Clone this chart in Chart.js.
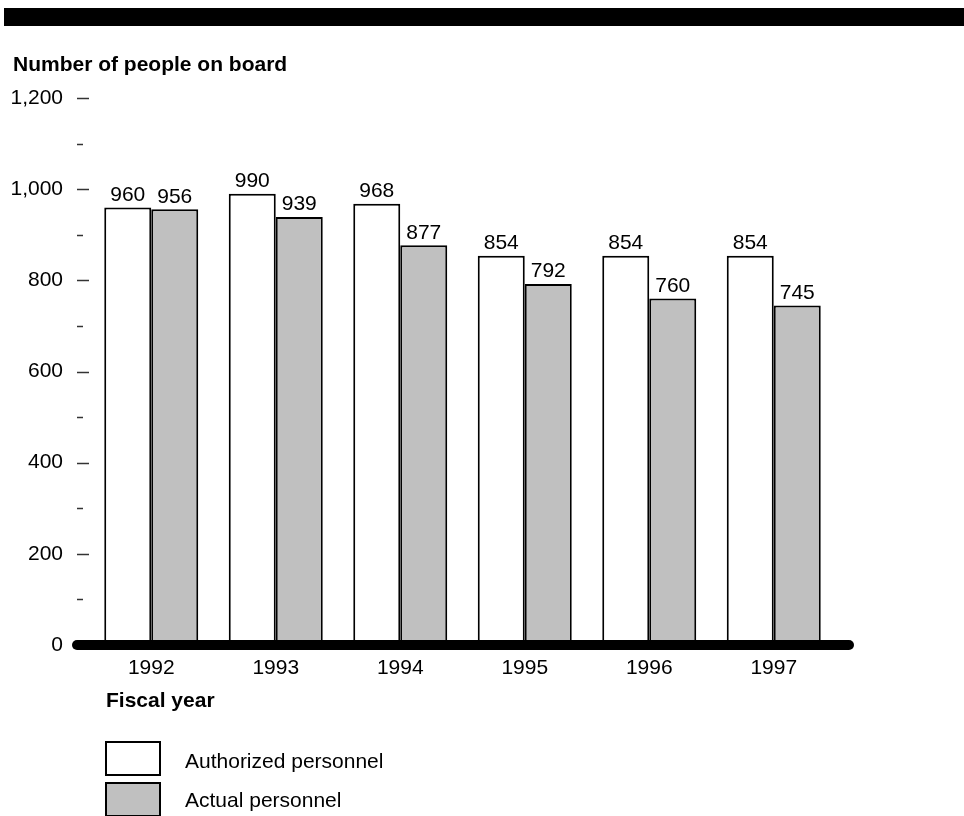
<!DOCTYPE html>
<html>
<head>
<meta charset="utf-8">
<script src="https://cdn.jsdelivr.net/npm/chart.js@4/dist/chart.umd.min.js"></script>
<style>
  html, body { margin: 0; padding: 0; background: #fff; }
  #wrap { width: 964px; height: 816px; position: relative; }
</style>
</head>
<body>
<div id="wrap"><canvas id="personnelChart" width="964" height="816"></canvas></div>
<script>
// fiscal years and personnel counts
const years = ['1992', '1993', '1994', '1995', '1996', '1997'];
const authorized = [960, 990, 968, 854, 854, 854];
const actual = [956, 939, 877, 792, 760, 745];
const seriesNames = ['Authorized personnel', 'Actual personnel'];
const yTitle = 'Number of people on board';
const xTitle = 'Fiscal year';

const FONT = '"Liberation Sans", Arial, sans-serif';
const GREY = '#c0c0c0';

// everything that isn't a bar: header bar, titles, tick marks, baseline, value labels, legend
const decorations = {
  id: 'decorations',
  afterDatasetsDraw(chart) {
    const ctx = chart.ctx;
    const area = chart.chartArea;
    const yScale = chart.scales.y;

    ctx.save();

    // value labels over each bar
    ctx.fillStyle = '#000';
    ctx.font = '21px ' + FONT;
    ctx.textAlign = 'center';
    ctx.textBaseline = 'bottom';
    chart.data.datasets.forEach((ds, di) => {
      const meta = chart.getDatasetMeta(di);
      meta.data.forEach((bar, i) => {
        ctx.fillText(String(ds.data[i]), bar.x, bar.y - 2);
      });
    });

    // y tick marks, long for labelled values, short in between
    ctx.strokeStyle = '#333';
    ctx.lineWidth = 1.5;
    yScale.ticks.forEach(t => {
      const y = Math.round(yScale.getPixelForValue(t.value)) + 0.5;
      const len = t.value % 200 === 0 ? 12 : 6;
      ctx.beginPath();
      ctx.moveTo(area.left - 12, y);
      ctx.lineTo(area.left - 12 + len, y);
      ctx.stroke();
    });

    // thick baseline at zero
    const y0 = yScale.getPixelForValue(0);
    ctx.strokeStyle = '#000';
    ctx.lineWidth = 10;
    ctx.lineCap = 'round';
    ctx.beginPath();
    ctx.moveTo(area.left - 12, y0);
    ctx.lineTo(area.right + 13, y0);
    ctx.stroke();
    ctx.lineCap = 'butt';

    // black header strip
    ctx.fillStyle = '#000';
    ctx.fillRect(4, 8, chart.width - 4, 18);

    // axis titles
    ctx.textAlign = 'left';
    ctx.textBaseline = 'alphabetic';
    ctx.font = 'bold 21px ' + FONT;
    ctx.fillText(yTitle, 13, 71);
    ctx.fillText(xTitle, 106, 707);

    // legend
    ctx.font = '21px ' + FONT;
    ctx.lineWidth = 2;
    chart.data.datasets.forEach((ds, di) => {
      const top = 742 + di * 41;
      ctx.fillStyle = ds.backgroundColor;
      ctx.fillRect(106, top, 54, 33);
      ctx.strokeStyle = '#000';
      ctx.strokeRect(106, top, 54, 33);
      ctx.fillStyle = '#000';
      ctx.fillText(seriesNames[di], 185, 768 + di * 39);
    });

    ctx.restore();
  }
};

new Chart(document.getElementById('personnelChart'), {
  type: 'bar',
  data: {
    labels: years,
    datasets: [
      {
        label: seriesNames[0],
        data: authorized,
        backgroundColor: '#ffffff',
        borderColor: '#000',
        borderWidth: 2,
        borderSkipped: false,
        categoryPercentage: 0.755,
        barPercentage: 1
      },
      {
        label: seriesNames[1],
        data: actual,
        backgroundColor: GREY,
        borderColor: '#000',
        borderWidth: 2,
        borderSkipped: false,
        categoryPercentage: 0.755,
        barPercentage: 1
      }
    ]
  },
  options: {
    responsive: false,
    animation: false,
    layout: {
      padding: { top: 98, right: 128, left: 0, bottom: 0 }
    },
    plugins: {
      legend: { display: false },
      tooltip: { enabled: false }
    },
    scales: {
      x: {
        grid: { display: false },
        border: { display: false },
        ticks: {
          color: '#000',
          padding: 3,
          font: { family: FONT, size: 21 }
        },
        afterFit: scale => { scale.height = 171; }
      },
      y: {
        min: 0,
        max: 1200,
        grid: { display: false, drawTicks: false },
        border: { display: false },
        ticks: {
          stepSize: 100,
          color: '#000',
          padding: 26,
          font: { family: FONT, size: 21 },
          callback: value => value % 200 === 0 ? value.toLocaleString('en-US') : ''
        },
        afterFit: scale => { scale.width = 89; }
      }
    }
  },
  plugins: [decorations]
});
</script>
</body>
</html>
